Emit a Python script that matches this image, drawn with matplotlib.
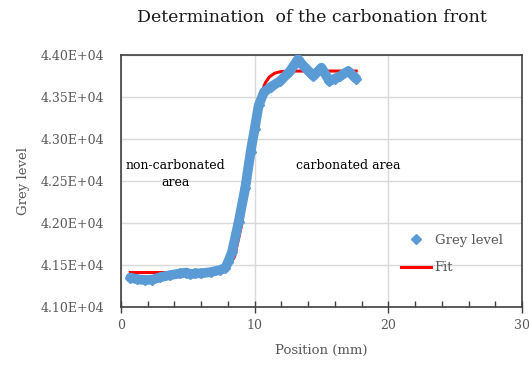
import numpy as np
import matplotlib
matplotlib.use('Agg')
import matplotlib.pyplot as plt
from matplotlib.ticker import MultipleLocator, FormatStrFormatter

plt.rcParams['font.family'] = ['DejaVu Serif']

# Measured grey level profile across the sample
position = [0.7, 1.2, 1.8, 2.35, 2.95, 3.7, 4.45, 4.9, 5.2, 5.55, 5.95, 6.7, 7.4,
            7.8, 8.0, 8.3, 8.8, 9.3, 9.7, 10.0, 10.3, 10.7, 11.2, 11.9, 12.6,
            13.25, 13.6, 14.1, 14.4, 15.0, 15.6, 16.0, 16.4, 17.0, 17.6]
grey = [41350, 41330, 41320, 41325, 41355, 41380, 41400, 41410, 41390, 41400,
        41400, 41415, 41440, 41465, 41530, 41650, 42010, 42420, 42850, 43120,
        43400, 43560, 43620, 43690, 43800, 43950, 43880, 43800, 43750, 43850,
        43690, 43720, 43750, 43810, 43720]

# Fitted step curve
fit_x = [0.7, 2, 4, 6, 7, 7.5, 8, 8.5, 9, 9.3, 9.6, 9.9, 10.2, 10.5, 10.8,
         11.1, 11.5, 12, 13, 14, 15, 16, 17.6]
fit_y = [41410, 41410, 41410, 41410, 41415, 41425, 41470, 41600, 41960, 42300,
         42680, 43040, 43340, 43540, 43670, 43740, 43785, 43805, 43810, 43810,
         43810, 43810, 43810]

fig = plt.figure(figsize=(5.29, 3.65), dpi=100)
ax = fig.add_axes([0.2287, 0.159, 0.758, 0.690])

fit_line, = ax.plot(fit_x, fit_y, color='#FF0000', lw=2.2, zorder=3)
ax.plot(position, grey, color='#5B9BD5', lw=7, solid_joinstyle='round',
        solid_capstyle='round', zorder=4)
grey_pts, = ax.plot(position, grey, ls='none', marker='D', ms=5,
                    color='#5B9BD5', zorder=4)

ax.set_xlim(0, 30)
ax.set_ylim(41000, 44000)
ax.xaxis.set_major_locator(MultipleLocator(10))
ax.xaxis.set_minor_locator(MultipleLocator(2))
ax.yaxis.set_major_locator(MultipleLocator(500))
ax.yaxis.set_major_formatter(FormatStrFormatter('%.2E'))
ax.tick_params(axis='x', which='major', direction='inout', length=8, width=1,
               color='#404040', labelcolor='#595959', labelsize=9, pad=5)
ax.tick_params(axis='x', which='minor', direction='in', length=4, width=1,
               color='#404040')
ax.tick_params(axis='y', length=0, labelcolor='#595959', labelsize=9, pad=12)
ax.grid(True, which='major', color='#D9D9D9', lw=1)
ax.set_axisbelow(True)
for s in ax.spines.values():
    s.set_color('#404040')
    s.set_linewidth(1.2)

ax.set_xlabel('Position (mm)', color='#595959', fontsize=9.5, labelpad=8)
ax.set_ylabel('Grey level', color='#595959', fontsize=9.5, labelpad=8)
fig.suptitle('Determination  of the carbonation front', x=0.589, y=0.975,
             fontsize=12.5, color='#1a1a1a')

ax.text(4.07, 42760, 'non-carbonated\narea', fontsize=9, va='top',
        ha='center', linespacing=1.35)
ax.text(13.1, 42760, 'carbonated area', fontsize=9, va='top')

ax.legend([grey_pts, fit_line], ['Grey level', 'Fit'], loc='upper left',
          bbox_to_anchor=(0.698, 0.29), frameon=False, borderpad=0,
          borderaxespad=0, fontsize=9.5, handlelength=2.3, handletextpad=0.25,
          labelspacing=1.1, labelcolor='#595959')

fig.savefig('out.png', dpi=100)
